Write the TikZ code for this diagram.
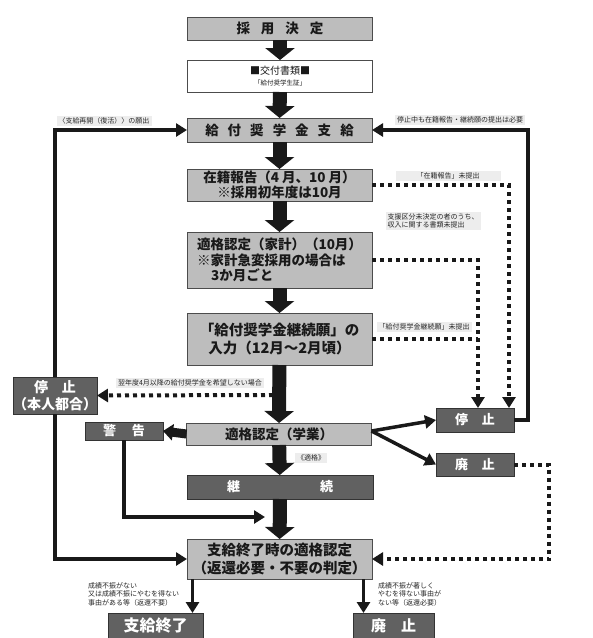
\documentclass[tikz,border=0pt]{standalone}
\usepackage{fontspec}
\setmainfont{Noto Sans CJK JP}
\usetikzlibrary{arrows.meta}

\tikzset{
	mainbox/.style={draw=black!70, fill=black!26, line width=0.8pt, minimum width=185pt, inner sep=0pt, outer sep=0pt, font=\bfseries\fontsize{13.5}{15.5}\selectfont, text=black!90, align=center},
	darkbox/.style={draw=black!80, fill=black!62, line width=0.8pt, inner sep=0pt, outer sep=0pt, font=\bfseries\fontsize{13}{16}\selectfont, text=white, align=center},
	note/.style={fill=black!7, inner sep=2pt, font=\fontsize{7}{8.5}\selectfont, align=left, text=black!85},
	plainnote/.style={inner sep=0pt, font=\fontsize{7}{8.5}\selectfont, align=left, text=black!85},
	bigarrow/.style={line width=14pt, draw=black!90, -{Triangle[length=12pt,width=29pt]}},
	midarrow/.style={line width=9pt, draw=black!90, -{Triangle[length=10pt,width=16pt]}},
	flowline/.style={line width=3.5pt, draw=black!90, -{Triangle[length=11pt,width=13pt]}},
	dotline/.style={line width=4pt, draw=black!90, dash pattern=on 4pt off 4pt},
	dotarrow/.style={dotline, -{Triangle[length=11pt,width=13pt]}},
}

\begin{document}
\begin{tikzpicture}[x=1pt, y=-1pt]
	\useasboundingbox (0,0) rectangle (593,638);

	% main column
	\node[mainbox, minimum height=23pt] (kettei) at (280,28.5) {採\hspace{11pt}用\hspace{11pt}決\hspace{11pt}定};
	\node[mainbox, fill=white, minimum height=32pt, font=\fontsize{10}{12}\selectfont] (shorui) at (280,76) {■交付書類■\\[-1pt]{\fontsize{6.5}{8}\selectfont 「給付奨学生証」}};
	\node[mainbox, minimum height=24pt] (shikyu) at (279.5,130) {給\hspace{9pt}付\hspace{9pt}奨\hspace{9pt}学\hspace{9pt}金\hspace{9pt}支\hspace{9pt}給};
	\node[mainbox, minimum height=32pt] (zaiseki) at (279.5,185) {在籍報告（4 月、10 月）\\※採用初年度は10月};
	\node[mainbox, minimum height=56pt, align=left] (kakei) at (279.5,260) {適格認定（家計）（10月）\\※家計急変採用の場合は\\\hspace{14pt}3か月ごと};
	\node[mainbox, minimum height=52pt, font=\bfseries\fontsize{14.5}{18}\selectfont] (negai) at (279.5,339) {「給付奨学金継続願」の\\入力（12月～2月頃）};
	\node[mainbox, minimum height=22pt] (gakugyo) at (279,434) {適格認定（学業）};
	\node[darkbox, minimum width=186pt, minimum height=24pt] (keizoku) at (280,487) {継\hspace{80pt}続};
	\node[mainbox, minimum height=40pt, font=\bfseries\fontsize{14.5}{18}\selectfont] (owari) at (279.5,559) {支給終了時の適格認定\\（返還必要・不要の判定）};

	% side boxes
	\node[darkbox, minimum width=76pt, minimum height=37pt, font=\bfseries\fontsize{14}{17}\selectfont] (jishu) at (55,395.5) {停\hspace{14pt}止\\（本人都合）};
	\node[darkbox, minimum width=78pt, minimum height=18pt] (keikoku) at (124,431) {警\hspace{16pt}告};
	\node[darkbox, minimum width=78pt, minimum height=24pt] (teishi) at (475,420) {停\hspace{14pt}止};
	\node[darkbox, minimum width=78pt, minimum height=23pt] (haishi) at (475,464.5) {廃\hspace{14pt}止};
	\node[darkbox, minimum width=95pt, minimum height=25pt, font=\bfseries\fontsize{16}{18}\selectfont] (shuryo) at (155.5,625.5) {支給終了};
	\node[darkbox, minimum width=81pt, minimum height=25pt, font=\bfseries\fontsize{15}{18}\selectfont] (henkan) at (393.5,625.5) {廃\hspace{15pt}止};

	% labels
	\node[note] (fukkatsu) at (104,121) {〈支給再開（復活）〉の願出};
	\node[note] (hitsuyo) at (460,120) {停止中も在籍報告・継続願の提出は必要};
	\node[note, minimum width=105pt, align=center] (mitei1) at (448,176) {「在籍報告」未提出};
	\node[note] (mitei2) at (433,221) {支援区分未決定の者のうち、\\収入に関する書類未提出};
	\node[note] (mitei3) at (424,327) {「給付奨学金継続願」未提出};
	\node[note] (kibou) at (190,383) {翌年度4月以降の給付奨学金を希望しない場合};
	\node[note] (tekikaku) at (311,458) {《適格》};
	\node[plainnote, anchor=north west] (fuyou) at (88,582) {成績不振がない\\又は成績不振にやむを得ない\\事由がある等（返還不要）};
	\node[plainnote, anchor=north west] (hitsuyo2) at (378,582) {成績不振が著しく\\やむを得ない事由が\\ない等（返還必要）};

	\coordinate (giveup) at (273,395);	% on the main arrow
	\coordinate (merge) at (265,517);	% joins the main arrow

	% main flow arrows
	\draw[bigarrow] (kettei) -- (shorui);
	\draw[bigarrow] (shorui) -- (shikyu);
	\draw[bigarrow] (shikyu) -- (zaiseki);
	\draw[bigarrow] (zaiseki) -- (kakei);
	\draw[bigarrow] (kakei) -- (negai);
	\draw[bigarrow] (negai) -- (gakugyo);
	\draw[bigarrow] (gakugyo) -- (keizoku);
	\draw[bigarrow] (keizoku) -- (owari);
	\draw[midarrow] (gakugyo.west) -- (keikoku.east);

	% solid side lines
	\draw[flowline] ([yshift=3pt]gakugyo.east) -- (teishi.west);
	\draw[flowline] ([yshift=3pt]gakugyo.east) -- (haishi.west);
	\draw[flowline] (keikoku.south) |- (merge);
	\draw[flowline] (jishu.north) |- (shikyu.west);
	\draw[flowline] (jishu.south) |- (owari.west);
	\draw[flowline] (teishi.east) -- ++(14,0) |- (shikyu.east);
	\draw[flowline] ([xshift=-87pt]owari.south) -- ([xshift=-87pt]owari.south |- shuryo.north);
	\draw[flowline] ([xshift=84pt]owari.south) -- ([xshift=84pt]owari.south |- henkan.north);

	% dotted lines
	\draw[dotarrow] (zaiseki.east) -| ([xshift=34pt]teishi.north);
	\draw[dotarrow] (kakei.east) -| ([xshift=3pt]teishi.north);
	\draw[dotline] (negai.east) -- ([xshift=3pt]teishi.north |- negai.east);
	\draw[dotarrow] (giveup) -- (jishu.east);
	\draw[dotarrow] (haishi.east) -- ++(35,0) |- (owari.east);
\end{tikzpicture}
\end{document}
